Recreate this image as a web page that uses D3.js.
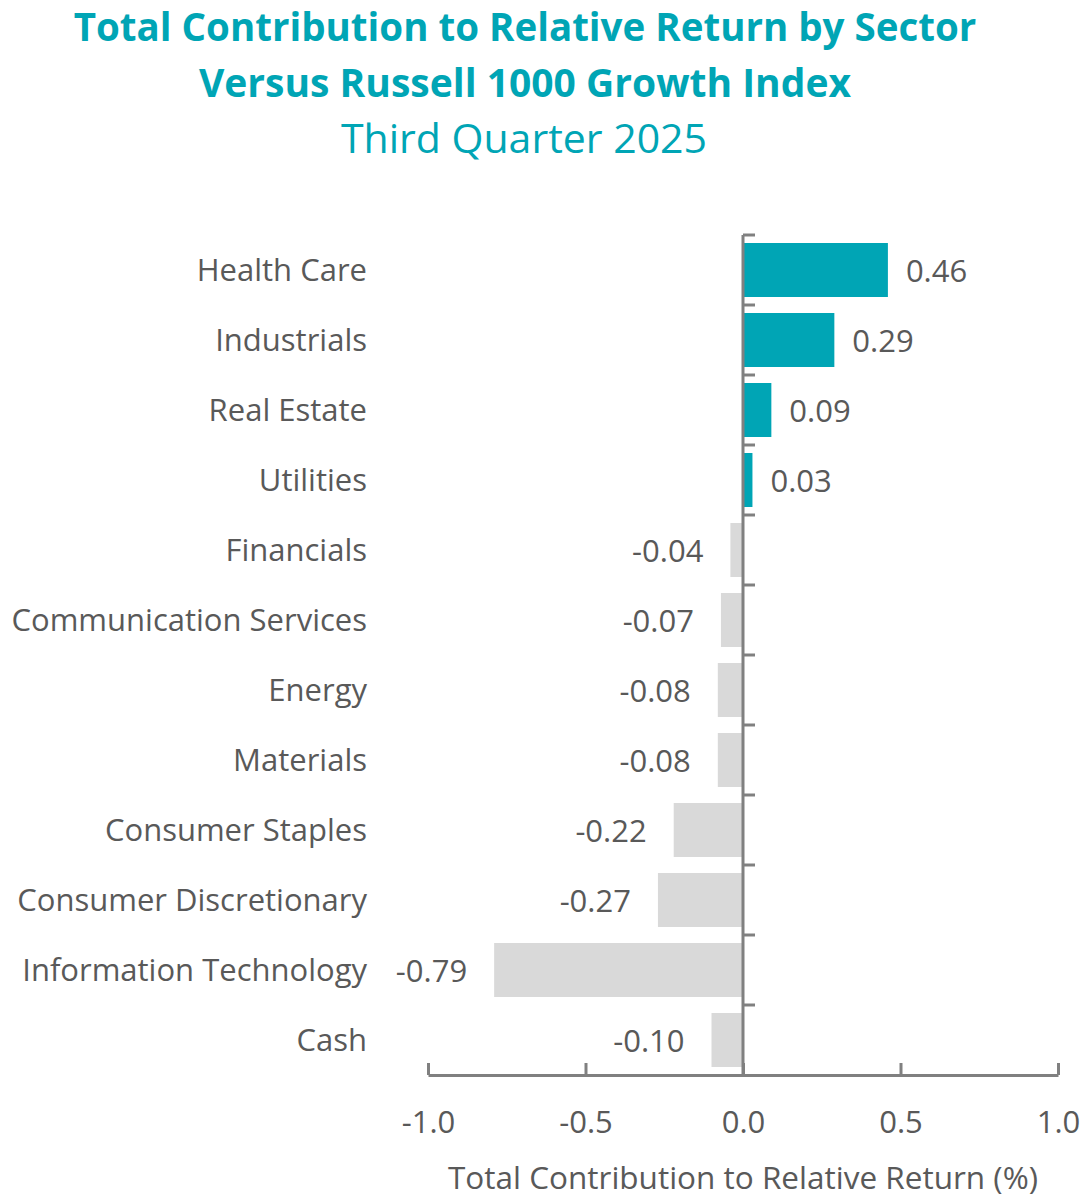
<!DOCTYPE html>
<html>
<head>
<meta charset="utf-8">
<script src="https://cdn.jsdelivr.net/npm/d3@7"></script>
<style>
  html, body { margin: 0; padding: 0; background: #ffffff; }
  svg { display: block; font-family: "Open Sans", "Noto Sans", sans-serif; }
</style>
</head>
<body>
<svg id="chart" width="1090" height="1201"></svg>
<script>
const titleLines = ["Total Contribution to Relative Return by Sector", "Versus Russell 1000 Growth Index"];
const subtitle = "Third Quarter 2025";
const categories = ["Health Care", "Industrials", "Real Estate", "Utilities", "Financials",
  "Communication Services", "Energy", "Materials", "Consumer Staples",
  "Consumer Discretionary", "Information Technology", "Cash"];
const values = [0.46, 0.29, 0.09, 0.03, -0.04, -0.07, -0.08, -0.08, -0.22, -0.27, -0.79, -0.10];
const xTicks = [-1.0, -0.5, 0.0, 0.5, 1.0];
const xAxisTitle = "Total Contribution to Relative Return (%)";

const teal = "#00A5B5";
const grey = "#D9D9D9";
const textCol = "#595959";
const axisCol = "#808080";

const svg = d3.select("#chart");

const x = d3.scaleLinear().domain([-1, 1]).range([428, 1058]);
const y = d3.scaleBand().domain(categories).range([235, 1075])
  .paddingInner(16 / 70).paddingOuter(8 / 70);
const step = y.step();

// Titles
svg.append("text").attr("x", 525).attr("y", 41).attr("text-anchor", "middle")
  .attr("font-size", 38.5).attr("font-weight", 700).attr("fill", teal).text(titleLines[0]);
svg.append("text").attr("x", 525).attr("y", 97).attr("text-anchor", "middle")
  .attr("font-size", 39).attr("font-weight", 700).attr("fill", teal).text(titleLines[1]);
svg.append("text").attr("x", 524).attr("y", 153).attr("text-anchor", "middle")
  .attr("font-size", 41).attr("font-weight", 400).attr("fill", teal).text(subtitle);

const data = categories.map((c, i) => ({ c, v: values[i] }));

// Bars
svg.append("g").selectAll("rect").data(data).join("rect")
  .attr("x", d => x(Math.min(0, d.v)))
  .attr("width", d => Math.abs(x(d.v) - x(0)))
  .attr("y", d => y(d.c))
  .attr("height", y.bandwidth())
  .attr("fill", d => d.v >= 0 ? teal : grey);

// Value labels
svg.append("g").selectAll("text").data(data).join("text")
  .attr("x", d => d.v >= 0 ? x(d.v) + 18 : x(d.v) - 27)
  .attr("y", d => y(d.c) + y.bandwidth() / 2 + 12)
  .attr("text-anchor", d => d.v >= 0 ? "start" : "end")
  .attr("font-size", 31).attr("fill", textCol)
  .text(d => d3.format(".2f")(d.v).replace("−", "-"));

// Category labels
svg.append("g").selectAll("text").data(data).join("text")
  .attr("x", 367)
  .attr("y", d => y(d.c) + y.bandwidth() / 2 + 11)
  .attr("text-anchor", "end")
  .attr("font-size", 31).attr("fill", textCol)
  .text(d => d.c);

// Vertical axis at zero with ticks at band boundaries
const yAxisG = svg.append("g");
yAxisG.append("line").attr("x1", x(0)).attr("x2", x(0))
  .attr("y1", 235).attr("y2", 1075)
  .attr("stroke", axisCol).attr("stroke-width", 3);
yAxisG.selectAll("line.tk").data(categories).join("line").attr("class", "tk")
  .attr("x1", x(0)).attr("x2", x(0) + 12)
  .attr("y1", d => y(d) - y.paddingOuter() * step)
  .attr("y2", d => y(d) - y.paddingOuter() * step)
  .attr("stroke", axisCol).attr("stroke-width", 3);

// Horizontal axis
const xAxis = d3.axisBottom(x).tickValues(xTicks).tickSize(0).tickFormat(d3.format(".1f"));
const xg = svg.append("g").attr("transform", "translate(0,1075)").call(xAxis);
xg.select(".domain").attr("stroke", axisCol).attr("stroke-width", 3);
xg.selectAll(".tick text").attr("font-size", 31).attr("fill", textCol)
  .attr("font-family", "Open Sans, sans-serif").attr("dy", 0).attr("y", 58)
  .text(d => d3.format(".1f")(d).replace("−", "-"));
xg.selectAll(".tick").append("line")
  .attr("x1", 0).attr("x2", 0).attr("y1", 0).attr("y2", -12)
  .attr("stroke", axisCol).attr("stroke-width", 3);

svg.append("text").attr("x", 743).attr("y", 1189).attr("text-anchor", "middle")
  .attr("font-size", 31.5).attr("fill", textCol).text(xAxisTitle);
</script>
</body>
</html>
